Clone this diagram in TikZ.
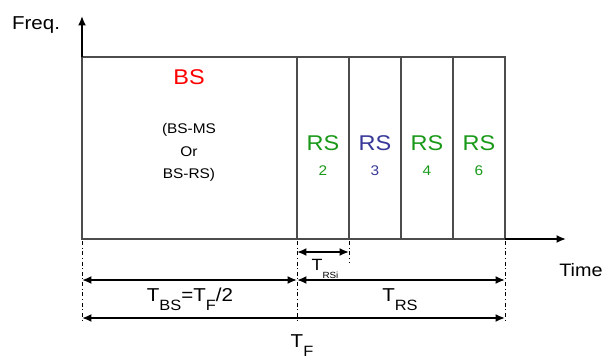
\documentclass[tikz,border=0pt]{standalone}
\usepackage{fontspec}
\usepackage{graphicx}
\setmainfont{Liberation Sans}
\usetikzlibrary{arrows.meta}

\newcommand{\hs}[1]{\scalebox{1.1}[1]{#1}}
\newcommand{\tsub}[2][0.8]{\raisebox{-1ex}{\scalebox{#1}{#2}}}

\begin{document}
\begin{tikzpicture}[x=0.75pt, y=-0.75pt, >={Latex[length=7pt,width=6pt]}]
	\definecolor{bscol}{rgb}{1,0,0}
	\definecolor{rsgreen}{rgb}{0.1,0.6,0.1}
	\definecolor{rsblue}{rgb}{0.22,0.22,0.6}
	\tikzset{
		slotline/.style={draw=black!70, line width=0.8pt},
		axisline/.style={line width=1.5pt, ->},
		dimline/.style={line width=1.5pt, <->},
		guide/.style={line width=0.7pt, dash dot},
		lbl/.style={anchor=base, inner sep=0pt},
	}
	\useasboundingbox (0,0) rectangle (605,360);
	% slots
	\draw[slotline] (82,57) rectangle (297,239);
	\foreach \x in {297, 349, 401, 453} {
		\draw[slotline] (\x,57) rectangle ({\x+52},239);
	}
	% axes
	\coordinate (ybase) at (82,57);
	\coordinate (ytip) at (82,16);
	\coordinate (xbase) at (505,239);
	\coordinate (xtip) at (566,239);
	\draw[axisline] (ybase) -- (ytip);
	\draw[axisline] (xbase) -- (xtip);
	\node[lbl, font=\fontsize{14}{16}\selectfont] (freq) at (36,30) {\hs{Freq.}};
	\node[lbl, font=\fontsize{13.5}{16}\selectfont] (time) at (581,276) {\hs{Time}};
	% slot labels
	\node[lbl, text=bscol, font=\fontsize{16}{18}\selectfont] (bs) at (189,84) {\hs{BS}};
	\node[lbl, font=\fontsize{10.5}{12}\selectfont] (bsms) at (189,133) {\hs{(BS-MS}};
	\node[lbl, font=\fontsize{10.5}{12}\selectfont] (bsor) at (189,156) {\hs{Or}};
	\node[lbl, font=\fontsize{10.5}{12}\selectfont] (bsrs) at (189,178) {\hs{BS-RS)}};
	\foreach \x/\n/\c in {323/2/rsgreen, 375/3/rsblue, 427/4/rsgreen, 479/6/rsgreen} {
		\node[lbl, text=\c, font=\fontsize{16}{18}\selectfont] (rs\n) at (\x,150) {\hs{RS}};
		\node[lbl, text=\c, font=\fontsize{10.5}{12}\selectfont] (num\n) at (\x,175) {\hs{\n}};
	}
	% guides
	\coordinate (g0) at (82,241);
	\coordinate (g1) at (297,241);
	\coordinate (g2) at (349,241);
	\coordinate (g3) at (505,241);
	\draw[guide] (g0) -- ++(0,80);
	\draw[guide] (g1) -- ++(0,80);
	\draw[guide] (g2) -- ++(0,21);
	\draw[guide] (g3) -- ++(0,80);
	% dimensions
	\draw[dimline] (g1 |- 0,252) -- (g2 |- 0,252);
	\node[lbl, font=\fontsize{12.2}{14}\selectfont] (trsi) at (325,270) {\hs{T\tsub[0.55]{RSi}}};
	\draw[dimline] (g0 |- 0,280) -- (g1 |- 0,280);
	\draw[dimline] (g1 |- 0,280) -- (g3 |- 0,280);
	\node[lbl, font=\fontsize{14}{16}\selectfont] (tbs) at (190,301) {\hs{T\tsub{BS}=T\tsub{F}/2}};
	\node[lbl, font=\fontsize{14}{16}\selectfont] (trs) at (400,301) {\hs{T\tsub{RS}}};
	\draw[dimline] (g0 |- 0,318) -- (g3 |- 0,318);
	\node[lbl, font=\fontsize{14}{16}\selectfont] (tf) at (302,347) {\hs{T\tsub{F}}};
\end{tikzpicture}
\end{document}
